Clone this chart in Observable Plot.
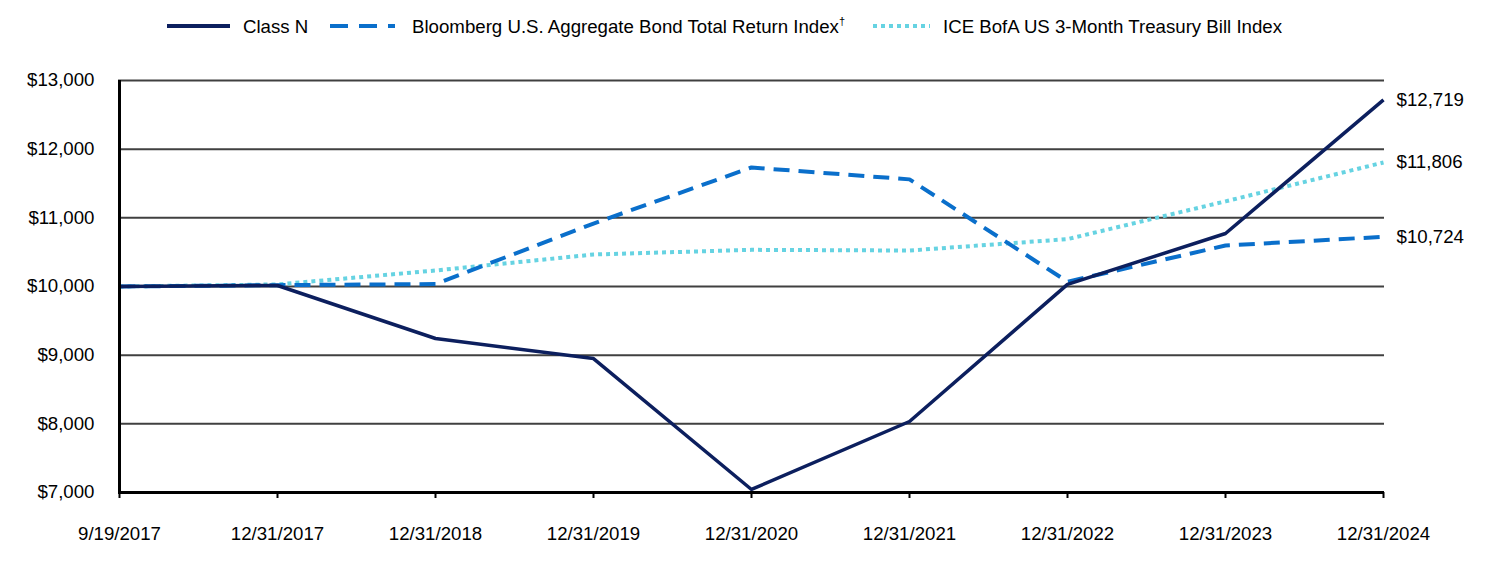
<!DOCTYPE html>
<html>
<head>
<meta charset="utf-8">
<script src="https://cdn.jsdelivr.net/npm/d3@7"></script>
<script src="https://cdn.jsdelivr.net/npm/@observablehq/plot@0.6"></script>
<style>
  body { margin: 0; background: #fff; font-family: "Liberation Sans", Arial, sans-serif; }
  #wrap { position: relative; width: 1512px; height: 576px; }
  #legend { position: relative; height: 52px; width: 1512px; font-size: 18.67px; color: #000; }
  .sw { position: absolute; top: 20px; }
  .lt { position: absolute; top: 16px; line-height: 22px; white-space: nowrap; }
  sup { font-size: 11px; vertical-align: 8px; line-height: 0; }
</style>
</head>
<body>
<div id="wrap">
  <div id="legend"></div>
  <div id="chart"></div>
</div>
<script>
const dates = ["9/19/2017","12/31/2017","12/31/2018","12/31/2019","12/31/2020","12/31/2021","12/31/2022","12/31/2023","12/31/2024"];
const classN = [10000, 10015, 9243, 8950, 7044, 8034, 10030, 10772, 12719];
const bloomberg = [10000, 10020, 10035, 10917, 11733, 11560, 10070, 10597, 10724];
const ice = [10000, 10030, 10233, 10466, 10534, 10524, 10690, 11240, 11806];
const yTicks = [7000, 8000, 9000, 10000, 11000, 12000, 13000];
const seriesNames = ["Class N", "Bloomberg U.S. Aggregate Bond Total Return Index", "ICE BofA US 3-Month Treasury Bill Index"];
const colors = ["#0c1f5e", "#0a6fcb", "#66d3e2"];

const rows = [];
[classN, bloomberg, ice].forEach((arr, s) => arr.forEach((v, i) => rows.push({series: seriesNames[s], date: dates[i], value: v})));
const lastRows = [
  {date: dates[8], value: classN[8]},
  {date: dates[8], value: ice[8]},
  {date: dates[8], value: bloomberg[8]}
];
const fmt = v => "$" + d3.format(",")(v);

const styles = [
  {width: 3.5, dash: null},
  {width: 4, dash: "16,9"},
  {width: 4, dash: "4,4"}
];

const FS = 18.67;
const chart = Plot.plot({
  width: 1512,
  height: 510,
  marginTop: 28,
  marginBottom: 70,
  marginLeft: 118,
  marginRight: 128,
  style: {fontFamily: "'Liberation Sans', Arial, sans-serif", fontSize: FS + "px", color: "#000", background: "#fff"},
  x: {type: "point", domain: dates, padding: 0, label: null},
  y: {domain: [7000, 13000], label: null},
  marks: [
    Plot.ruleY(yTicks.filter(t => t > 7000), {stroke: "#404040", strokeWidth: 2}),
    Plot.axisY({ticks: yTicks, tickFormat: fmt, tickSize: 0, tickPadding: 24, fontSize: FS}),
    Plot.axisX({tickSize: 6, tickPadding: 28, fontSize: FS, stroke: "#000", strokeWidth: 2}),
    ...seriesNames.map((name, s) => Plot.line(rows.filter(r => r.series === name), {
      x: "date", y: "value", stroke: colors[s], strokeWidth: styles[s].width,
      strokeDasharray: styles[s].dash, strokeLinejoin: "round", strokeLinecap: "butt"
    })).reverse(),
    Plot.ruleX([dates[0]], {y1: 7000, y2: 13000, stroke: "#000", strokeWidth: 3}),
    Plot.ruleY([7000], {stroke: "#000", strokeWidth: 3}),
    Plot.text(lastRows, {x: "date", y: "value", text: d => fmt(d.value), dx: 13, textAnchor: "start", fontSize: FS, fill: "#000"})
  ]
});
document.getElementById("chart").appendChild(chart);

// Legend
const legend = document.getElementById("legend");
const items = [
  {swLeft: 167, swW: 63, textLeft: 243, html: "Class N"},
  {swLeft: 330, swW: 65, textLeft: 412, html: "Bloomberg U.S. Aggregate Bond Total Return Index<sup>†</sup>"},
  {swLeft: 873, swW: 57, textLeft: 943, html: "ICE BofA US 3-Month Treasury Bill Index"}
];
items.forEach((it, s) => {
  const ns = "http://www.w3.org/2000/svg";
  const svg = document.createElementNS(ns, "svg");
  svg.setAttribute("class", "sw");
  svg.setAttribute("width", it.swW);
  svg.setAttribute("height", 12);
  svg.style.left = it.swLeft + "px";
  const line = document.createElementNS(ns, "line");
  line.setAttribute("x1", 0); line.setAttribute("x2", it.swW);
  line.setAttribute("y1", 6); line.setAttribute("y2", 6);
  line.setAttribute("stroke", colors[s]);
  line.setAttribute("stroke-width", 4);
  if (s === 1) line.setAttribute("stroke-dasharray", "18,11");
  if (s === 2) line.setAttribute("stroke-dasharray", "4,4");
  svg.appendChild(line);
  legend.appendChild(svg);
  const t = document.createElement("div");
  t.className = "lt";
  t.style.left = it.textLeft + "px";
  t.innerHTML = it.html;
  legend.appendChild(t);
});
</script>
</body>
</html>
